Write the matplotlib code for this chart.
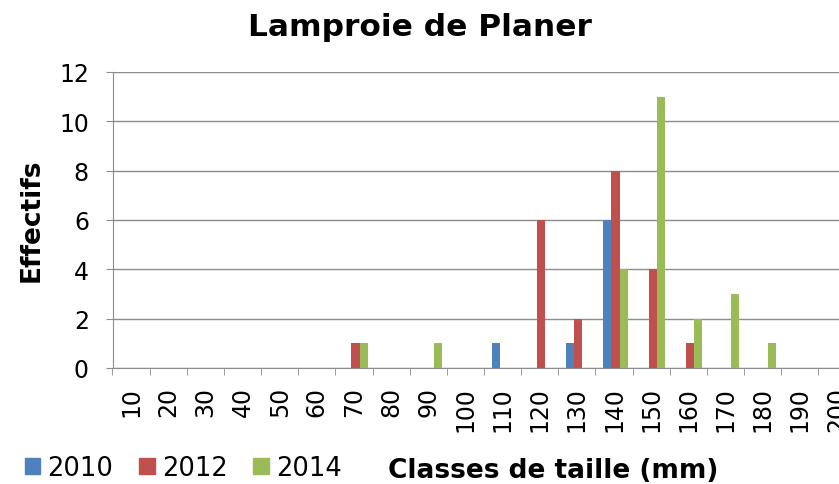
import matplotlib
matplotlib.use("Agg")
import matplotlib.pyplot as plt
import numpy as np
from matplotlib.patches import Patch

categories = [str(v) for v in range(10, 201, 10)]
s2010 = [0,0,0,0,0,0,0,0,0,0,1,0,1,6,0,0,0,0,0,0]
s2012 = [0,0,0,0,0,0,1,0,0,0,0,6,2,8,4,1,0,0,0,0]
s2014 = [0,0,0,0,0,0,1,0,1,0,0,0,0,4,11,2,3,1,0,0]
series = [("2010", s2010, "#4F81BD"), ("2012", s2012, "#C0504D"), ("2014", s2014, "#9BBB59")]

W, H = 839, 485
fig = plt.figure(figsize=(W/100, H/100), dpi=100)
ax = fig.add_axes([112.5/W, 1-369/H, 743/W, (369-73)/H])

x = np.arange(len(categories))
w = 0.22
for i, (name, vals, col) in enumerate(series):
    ax.bar(x + (i-1)*w + 0.04, vals, width=w, color=col, label=name, zorder=3)

ax.set_xlim(-0.5, len(categories)-0.5)
ax.set_ylim(0, 12)
ax.set_yticks(range(0, 13, 2))
ax.yaxis.grid(True, color="#8c8c8c", linewidth=1.0, zorder=0)
ax.set_xticks(x)
ax.set_xticklabels(categories, rotation=90, fontsize=17)
ax.tick_params(axis="x", which="major", length=0, pad=13)
ax.set_xticks(np.arange(-0.5, len(categories)), minor=True)
ax.tick_params(axis="x", which="minor", length=5, color="#8c8c8c", direction="out")
ax.tick_params(axis="y", length=5, color="#8c8c8c", labelsize=17, pad=12)
for s in ["top", "right"]:
    ax.spines[s].set_visible(False)
for s in ["left", "bottom"]:
    ax.spines[s].set_color("#8c8c8c")

fig.text(0.5, 1-36/H, "Lamproie de Planer", ha="center", va="baseline", fontsize=22.5, fontweight="bold")
fig.text(32/W, 1-220/H, "Effectifs", rotation=90, ha="center", va="center", fontsize=19, fontweight="bold")
fig.text(553/W, 1-478/H, "Classes de taille (mm)", ha="center", va="baseline", fontsize=19, fontweight="bold")

handles = [Patch(color=c, label=n) for n, _, c in series]
fig.legend(handles=handles, loc="center left", bbox_to_anchor=(25/W, 1-469/H), ncol=3,
           frameon=False, fontsize=18.5, handlelength=0.6, handleheight=0.6, handletextpad=0.28,
           columnspacing=1.0, borderaxespad=0, borderpad=0)

fig.savefig("out.png", dpi=100)
